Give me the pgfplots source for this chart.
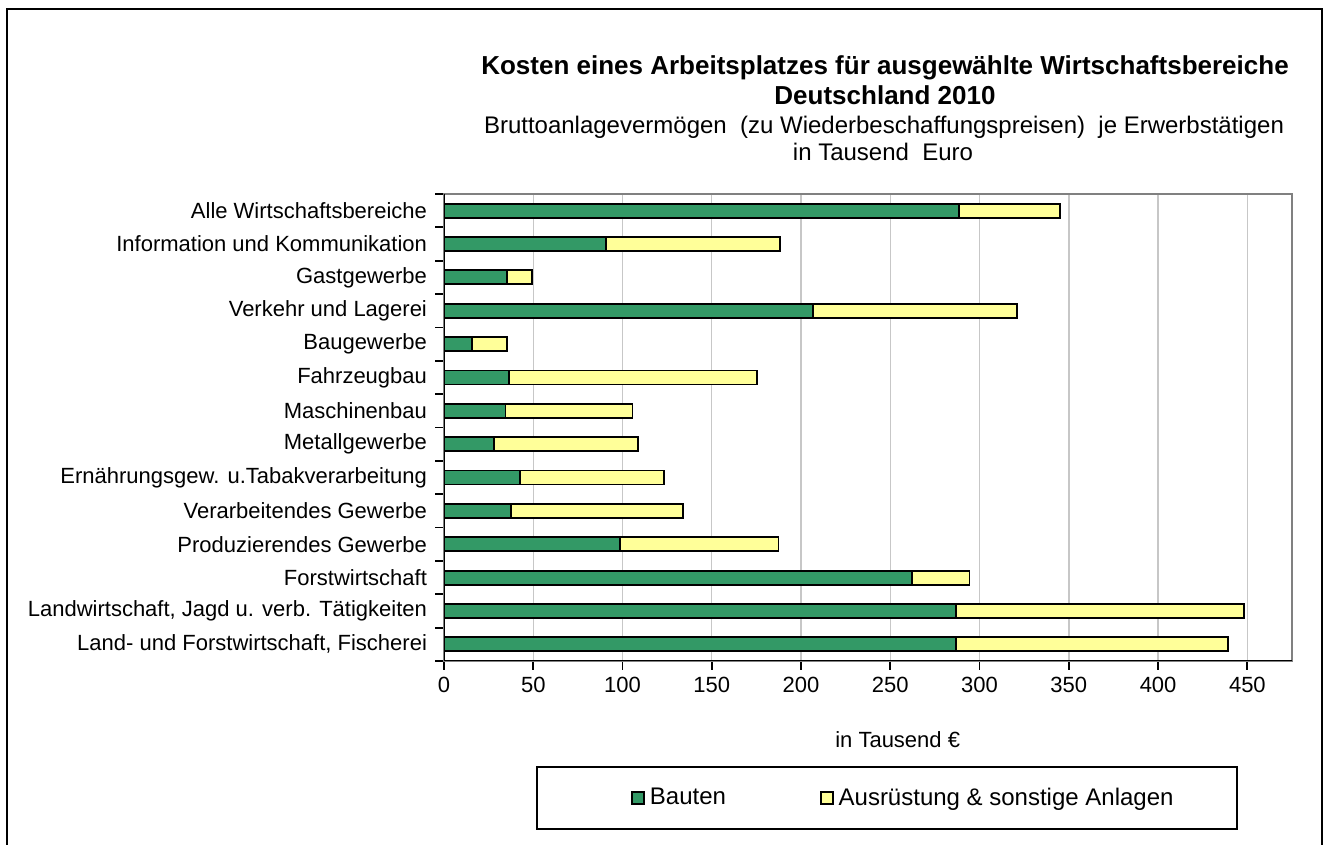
\documentclass[border=0pt]{standalone}
\usepackage{fontspec}
\setmainfont{Liberation Sans}
\usepackage{pgfplots}
\usepackage{pgfplotstable}
\pgfplotsset{compat=1.18}

\definecolor{bauten}{HTML}{339966}
\definecolor{ausr}{HTML}{FFFF99}

% idx 0 = bottom row
\pgfplotstableread{
idx bauten ausr
0   286.9  152.3
1   286.9  161.2
2   262.2  32.1
3   98.5   88.9
4   37.4   96.4
5   42.6   80.7
6   27.8   80.8
7   34.4   71.2
8   36.3   139.0
9   15.5   20.0
10  206.7  114.3
11  35.1   14.1
12  90.8   97.2
13  288.3  56.7
}\datatable

\begin{document}
\begin{tikzpicture}
\path[use as bounding box] (0,0) rectangle (664pt,422.5pt);
% outer frame
\draw[black, line width=1.2pt] (3.5pt,-2pt) -- (3.5pt,418pt) -- (661pt,418pt) -- (661pt,-2pt);

% titles
\node[font=\fontsize{13}{15}\selectfont\bfseries] at (442.5pt,388.5pt) {Kosten eines Arbeitsplatzes für ausgewählte Wirtschaftsbereiche};
\node[font=\fontsize{13}{15}\selectfont\bfseries] at (442.5pt,375pt) {Deutschland 2010};
\node[font=\fontsize{12}{14}\selectfont] at (442pt,359pt) {Bruttoanlagevermögen\ \ (zu Wiederbeschaffungspreisen)\ \ je Erwerbstätigen};
\node[font=\fontsize{12}{14}\selectfont] at (441.5pt,346.5pt) {in Tausend\ \ Euro};

\begin{axis}[
  at={(222pt,92pt)}, anchor=south west,
  scale only axis, width=424pt, height=233.5pt,
  xbar stacked, bar width=7pt,
  xmin=0, xmax=475, ymin=-0.5, ymax=13.5,
  xtick={0,50,...,450},
  ytick={-0.5,0.5,...,13.5}, yticklabels={},
  extra y ticks={0,1,...,13},
  extra y tick labels={{Land- und Forstwirtschaft, Fischerei}, {Landwirtschaft, Jagd u. verb. Tätigkeiten}, Forstwirtschaft, Produzierendes Gewerbe, Verarbeitendes Gewerbe, Ernährungsgew. u.Tabakverarbeitung, Metallgewerbe, Maschinenbau, Fahrzeugbau, Baugewerbe, Verkehr und Lagerei, Gastgewerbe, Information und Kommunikation, Alle Wirtschaftsbereiche},
  extra y tick style={major tick length=0pt, yticklabel style={xshift=-5pt}},
  tick align=outside, major tick length=4.5pt, tick pos=left,
  xmajorgrids, grid style={draw=black!22, line width=0.7pt},
  axis line style={draw=black!50, line width=0.9pt},
  tick style={black, line width=0.9pt},
  xtick style={draw=black, line width=0.9pt},
  tick label style={font=\fontsize{11}{13}\selectfont},
  /pgf/number format/assume math mode=true,
  xlabel={in Tausend €},
  xlabel style={font=\fontsize{11}{13}\selectfont, at={(axis description cs:0.535,-0.169)}, anchor=center},
  legend style={at={(axis description cs:0.543,-0.293)}, anchor=center, draw=none, fill=none,
    legend columns=2, font=\fontsize{12}{14}\selectfont,
    /tikz/every odd column/.append style={column sep=0.5pt},
    /tikz/every even column/.append style={column sep=45pt}},
]
\addplot[fill=bauten, draw=black, line width=0.9pt,
  legend image code/.code={\draw[fill=bauten, draw=black, line width=0.8pt] (0pt,-3pt) rectangle (6pt,3pt);}]
  table[x=bauten, y=idx]{\datatable};
\addplot[fill=ausr, draw=black, line width=0.9pt,
  legend image code/.code={\draw[fill=ausr, draw=black, line width=0.8pt] (0pt,-3pt) rectangle (6pt,3pt);}]
  table[x=ausr, y=idx]{\datatable};
\legend{Bauten, Ausrüstung \& sonstige Anlagen}
\draw[black, line width=1pt] (axis description cs:0,1) -- (axis description cs:0,0) -- (axis description cs:1,0);
\end{axis}

% legend frame
\draw[black, line width=0.6pt] (268.5pt,8pt) rectangle (618.5pt,39pt);
\end{tikzpicture}
\end{document}
